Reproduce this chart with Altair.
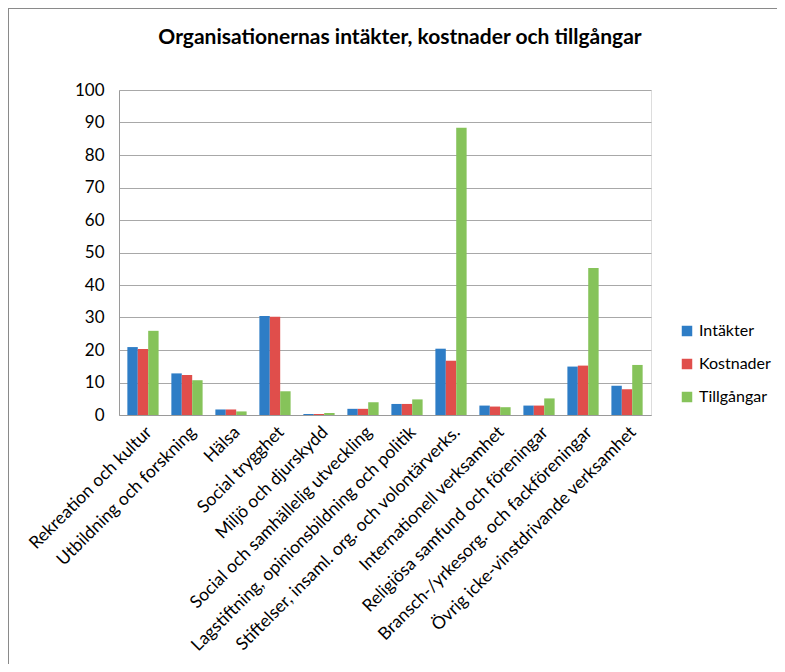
import altair as alt
import pandas as pd

categories = [
    "Rekreation och kultur",
    "Utbildning och forskning",
    "Hälsa",
    "Social trygghet",
    "Miljö och djurskydd",
    "Social och samhällelig utveckling",
    "Lagstiftning, opinionsbildning och politik",
    "Stiftelser, insaml. org. och volontärverks.",
    "Internationell verksamhet",
    "Religiösa samfund och föreningar",
    "Bransch-/yrkesorg. och fackföreningar",
    "Övrig icke-vinstdrivande verksamhet",
]
series = ["Intäkter", "Kostnader", "Tillgångar"]
intakter = [20.9, 12.8, 1.7, 30.5, 0.3, 1.9, 3.4, 20.4, 2.9, 2.9, 14.9, 9.0]
kostnader = [20.3, 12.3, 1.7, 30.2, 0.3, 1.9, 3.4, 16.7, 2.6, 2.9, 15.2, 7.9]
tillgangar = [25.9, 10.7, 1.1, 7.3, 0.6, 3.9, 4.8, 88.4, 2.4, 5.1, 45.2, 15.4]
colors = ["#2E7DC6", "#E04E4B", "#86C35A"]
y_ticks = list(range(0, 101, 10))

rows = []
for s, vals in zip(series, [intakter, kostnader, tillgangar]):
    for c, v in zip(categories, vals):
        rows.append({"Kategori": c, "Serie": s, "Värde": v})
df = pd.DataFrame(rows)

W, H = 532, 325
FONT = "Lato"

bars = alt.Chart(df).mark_bar().encode(
    x=alt.X("Kategori:N", sort=categories,
            scale=alt.Scale(paddingInner=0.29, paddingOuter=0.19),
            axis=alt.Axis(title=None, labelAngle=-45, labelFontSize=17.5,
                          labelFont=FONT, labelColor="#000000", ticks=False,
                          labelPadding=8, domainColor="#9A9A9A", labelLimit=400,
                          labelAlign="right", labelBaseline="top")),
    xOffset=alt.XOffset("Serie:N", sort=series),
    y=alt.Y("Värde:Q", scale=alt.Scale(domain=[0, 100], nice=False),
            axis=alt.Axis(title=None, values=y_ticks, labelFontSize=17,
                          labelFont=FONT, labelColor="#000000", ticks=False,
                          labelPadding=15, gridColor="#A8A8A8",
                          domainColor="#9A9A9A")),
    color=alt.Color("Serie:N", sort=series,
                    scale=alt.Scale(domain=series, range=colors),
                    legend=alt.Legend(title=None, orient="none", legendX=560,
                                      legendY=233, symbolType="square",
                                      symbolSize=110, symbolStrokeWidth=0,
                                      labelFontSize=16, labelFont=FONT,
                                      labelColor="#000000", rowPadding=17,
                                      labelOffset=4)),
)

one = pd.DataFrame({"a": [0]})
frame_left = alt.Chart(one).mark_rule(color="#8A8A8A", strokeWidth=2).encode(
    x=alt.value(-111), y=alt.value(-82), y2=alt.value(H + 300),
)
frame_top = alt.Chart(one).mark_rule(color="#8A8A8A", strokeWidth=2).encode(
    x=alt.value(-112), x2=alt.value(W + 160), y=alt.value(-82),
)

chart = alt.layer(frame_left, frame_top, bars).properties(
    width=W, height=H,
    title=alt.TitleParams("Organisationernas intäkter, kostnader och tillgångar",
                          font=FONT, fontSize=21, fontWeight="bold",
                          color="#000000", anchor="middle", frame="group",
                          dx=15, offset=-41),
    autosize=alt.AutoSizeParams(type="none"),
    padding={"left": 111, "top": 82, "right": 126, "bottom": 249},
).configure_view(stroke=None).configure(background="#FFFFFF")

chart.save("out.html", embed_options={"renderer": "svg", "actions": False})
